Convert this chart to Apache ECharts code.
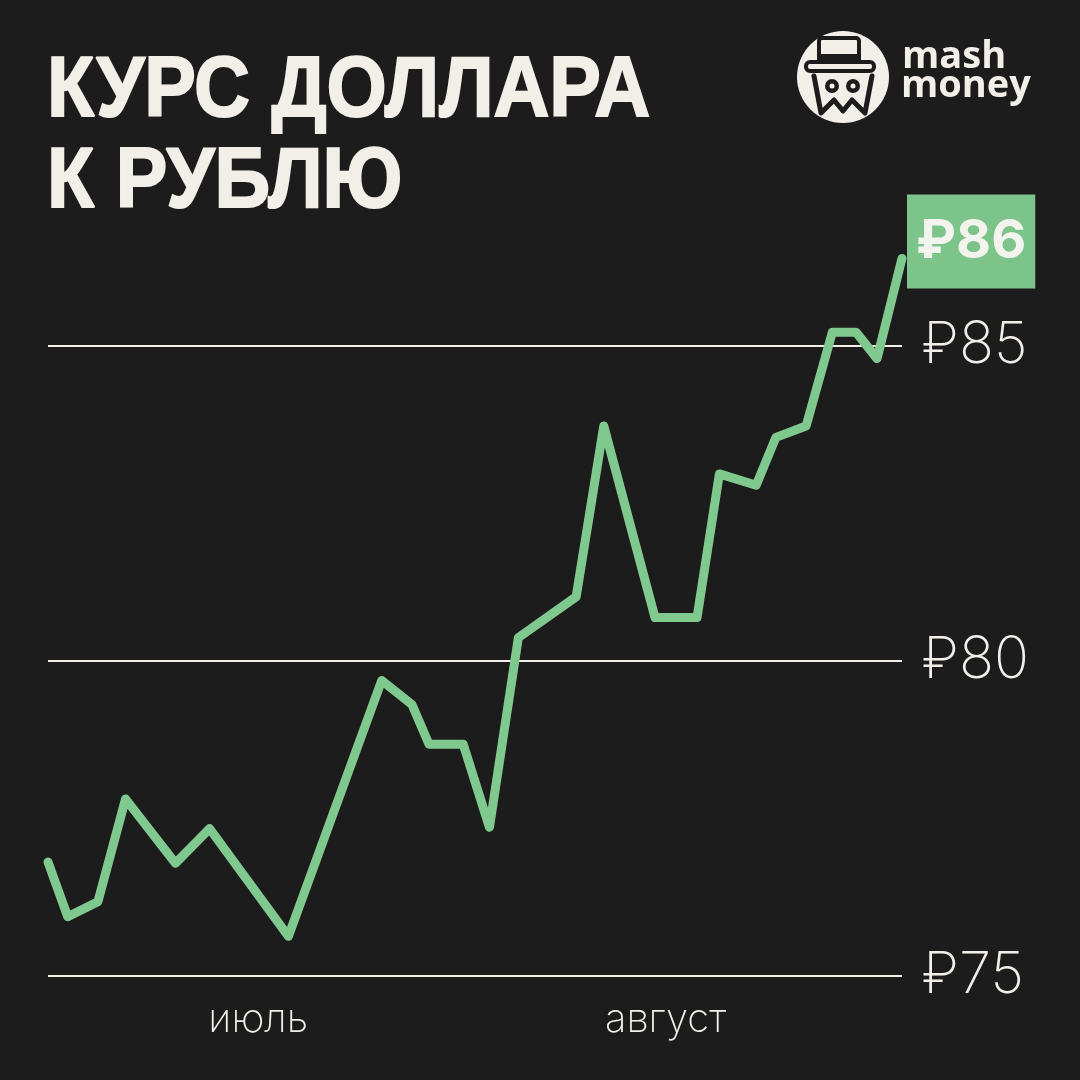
<!DOCTYPE html>
<html>
<head>
<meta charset="utf-8">
<script src="https://cdn.jsdelivr.net/npm/echarts@6/dist/echarts.min.js"></script>
<style>
  html, body { margin: 0; background: #1c1c1c; }
  #main { width: 1080px; height: 1080px; }
</style>
</head>
<body>
<div id="main"></div>
<script>
// days counted from the start of July
var days = [0, 1.5, 3.8, 5.9, 9.7, 12.3, 18.3, 25.4, 27.7, 29.0, 31.6, 33.6, 35.8,
  40.2, 42.3, 46.2, 49.4, 51.1, 53.9, 55.4, 57.7, 59.7, 61.5, 63.1, 65.0];
var rates = [76.81, 75.94, 76.18, 77.81, 76.79, 77.34, 75.63, 79.69, 79.31, 78.68, 78.68, 77.36, 80.37,
  81.02, 83.73, 80.69, 80.69, 82.97, 82.79, 83.55, 83.73, 85.22, 85.22, 84.80, 86.39];
var yTicks = [75, 80, 85];
var monthDays = [16, 47];
var monthNames = ['июль', 'август'];
var titleLines = ['КУРС ДОЛЛАРА', 'К РУБЛЮ'];

var light = '#f1efe8';
var green = '#80c98e';
var bg = '#1c1c1c';

var chart = echarts.init(document.getElementById('main'));

var titleFont = 'bold 86px "Liberation Sans", Arial, sans-serif';

chart.setOption({
  backgroundColor: bg,
  animation: false,
  graphic: [
    // title, squeezed to look like a condensed heavy face
    { type: 'text', x: 47, y: 92, scaleX: 0.9,
      style: { text: titleLines[0], fill: light, stroke: light, lineWidth: 2,
        font: titleFont, verticalAlign: 'middle' } },
    { type: 'text', x: 47, y: 183, scaleX: 0.9,
      style: { text: titleLines[1], fill: light, stroke: light, lineWidth: 2,
        font: titleFont, verticalAlign: 'middle' } },
    // logo
    { type: 'circle', shape: { cx: 843, cy: 77, r: 46 }, style: { fill: light } },
    { type: 'rect', shape: { x: 819, y: 38, width: 40, height: 26, r: 3 },
      style: { fill: light, stroke: bg, lineWidth: 4 } },
    { type: 'rect', shape: { x: 819, y: 54, width: 40, height: 7 }, style: { fill: bg } },
    { type: 'rect', shape: { x: 806, y: 62, width: 68, height: 9, r: 4 },
      style: { fill: light, stroke: bg, lineWidth: 4 } },
    { type: 'circle', shape: { cx: 832, cy: 86, r: 7 }, style: { fill: bg } },
    { type: 'circle', shape: { cx: 853, cy: 86, r: 7 }, style: { fill: bg } },
    { type: 'circle', shape: { cx: 832, cy: 86, r: 2.5 }, style: { fill: light } },
    { type: 'circle', shape: { cx: 853, cy: 86, r: 2.5 }, style: { fill: light } },
    { type: 'polyline',
      shape: { points: [[814, 76], [821, 113], [834, 100], [843, 111], [852, 100], [865, 113], [872, 76]] },
      style: { stroke: bg, lineWidth: 5, fill: null, lineJoin: 'round', lineCap: 'round' } },
    { type: 'text', left: 902, top: 38,
      style: { text: 'mash', fill: light, font: 'bold 38px "Open Sans"' } },
    { type: 'text', left: 901, top: 67,
      style: { text: 'money', fill: light, font: 'bold 38px "Open Sans"' } }
  ],
  grid: { left: 48, right: 178, top: 220, bottom: 104 },
  xAxis: {
    type: 'value',
    min: 0,
    max: 65,
    interval: 1,
    axisLine: { show: false },
    axisTick: { show: false },
    splitLine: { show: false },
    axisLabel: {
      margin: 24,
      color: light,
      fontFamily: 'Inter',
      fontWeight: 200,
      fontSize: 40,
      formatter: function (v) {
        var i = monthDays.indexOf(v);
        return i >= 0 ? monthNames[i] : '';
      }
    }
  },
  yAxis: {
    type: 'value',
    position: 'right',
    min: 75,
    max: 87,
    interval: 5,
    axisLine: { show: false },
    axisTick: { show: false },
    splitLine: {
      show: true,
      showMaxLine: false,
      lineStyle: { color: light, width: 2 }
    },
    axisLabel: {
      margin: 20,
      color: light,
      fontFamily: 'Inter',
      fontWeight: 200,
      fontSize: 58,
      showMaxLabel: false,
      formatter: function (v) {
        return yTicks.indexOf(v) >= 0 ? '₽' + v : '';
      }
    }
  },
  series: [{
    type: 'line',
    data: days.map(function (d, i) { return [d, rates[i]]; }),
    showSymbol: false,
    lineStyle: { color: green, width: 9, cap: 'round', join: 'round' },
    endLabel: {
      show: true,
      distance: 5,
      offset: [0, -17],
      formatter: function (p) { return '₽' + Math.round(p.value[1]); },
      color: '#f4f4ee',
      fontFamily: 'Inter',
      fontWeight: 700,
      fontSize: 54,
      lineHeight: 58,
      backgroundColor: '#7cc48a',
      padding: [18, 9, 18, 9]
    }
  }]
});
</script>
</body>
</html>
